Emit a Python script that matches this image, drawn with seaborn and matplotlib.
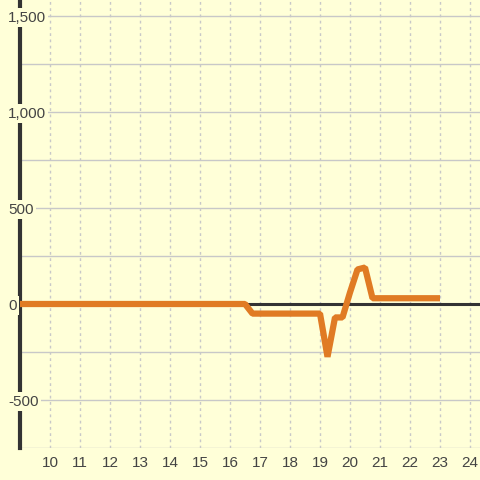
import matplotlib
matplotlib.use("Agg")
import matplotlib.pyplot as plt
import seaborn as sns
import pandas as pd
from matplotlib.ticker import FuncFormatter

# values (hour of day vs. value)
hours = [9.0, 16.5, 16.75, 19.0, 19.25, 19.5, 19.75, 20.0, 20.25, 20.5, 20.75, 23.0]
values = [0, 0, -50, -50, -275, -70, -70, 60, 180, 190, 30, 30]
x_ticks = list(range(10, 25))
y_ticks = [-500, 0, 500, 1000, 1500]
y_grid = [-750, -500, -250, 250, 500, 750, 1000, 1250, 1500]

BG = "#ffffd8"
ORANGE = "#e07b24"
GRID = "#c8c8c8"
DARK = "#333333"
TEXT = "#444444"

sns.set_style("white")
plt.rcParams['font.family'] = ['Liberation Sans', 'DejaVu Sans']

df = pd.DataFrame({"hour": hours, "value": values})

fig = plt.figure(figsize=(4.8, 4.8), dpi=100, facecolor=BG)
ax = fig.add_axes([20 / 480, 32 / 480, 460 / 480, 448 / 480])
ax.set_facecolor(BG)

# horizontal grid (solid) drawn by hand so tick labels can sit on top
for yv in y_grid:
    ax.axhline(yv, color=GRID, linewidth=1, zorder=0.5)

ax.axhline(0, color=DARK, linewidth=2.2, zorder=2.6)

sns.lineplot(data=df, x="hour", y="value", color=ORANGE, linewidth=4.5,
             ax=ax, zorder=3, solid_capstyle="butt", solid_joinstyle="bevel")

ax.set_xlim(9, 24 + 1 / 3)
ax.set_ylim(-750, 1500 + 16 / 0.192)
ax.set_xticks(x_ticks)
ax.set_yticks(y_ticks)
ax.yaxis.set_major_formatter(FuncFormatter(lambda v, p: f"{int(v):,}"))

ax.grid(axis="x", color=GRID, linestyle=(0, (2, 2.5)), linewidth=1)
ax.set_axisbelow(True)

for s in ["top", "right", "bottom"]:
    ax.spines[s].set_visible(False)
ax.spines["left"].set_color(DARK)
ax.spines["left"].set_linewidth(3)
ax.spines["left"].set_zorder(2)

ax.tick_params(axis="x", length=0, pad=6, labelsize=11, labelcolor=TEXT)
ax.tick_params(axis="y", length=0, pad=8.5, labelsize=11, labelcolor=TEXT)
ax.yaxis.set_zorder(5)
for lab in ax.get_yticklabels():
    lab.set_horizontalalignment("left")
    lab.set_bbox(dict(facecolor=BG, edgecolor="none", pad=1.5))

ax.set_xlabel("")
ax.set_ylabel("")

fig.savefig("out.png", dpi=100, facecolor=BG)
